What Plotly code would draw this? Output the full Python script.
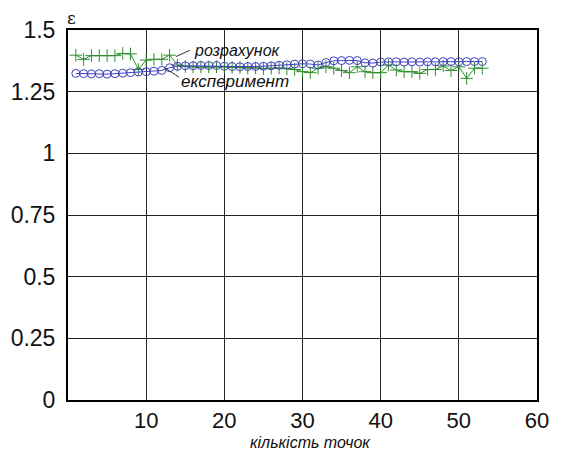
import plotly.graph_objects as go

points = list(range(1, 54))
experiment = [1.324,1.323,1.322,1.323,1.321,1.323,1.325,1.327,1.330,1.331,1.333,1.336,1.347,1.353,1.355,1.355,1.356,1.356,1.356,1.353,1.352,1.351,1.352,1.352,1.353,1.355,1.357,1.359,1.362,1.363,1.362,1.358,1.368,1.375,1.376,1.377,1.376,1.367,1.366,1.370,1.371,1.371,1.370,1.371,1.370,1.371,1.371,1.372,1.372,1.371,1.372,1.372,1.372]
calculation = [1.398,1.381,1.396,1.396,1.396,1.396,1.405,1.403,1.340,1.378,1.381,1.381,1.398,1.358,1.352,1.350,1.350,1.350,1.351,1.350,1.348,1.348,1.346,1.346,1.344,1.345,1.346,1.343,1.340,1.331,1.327,1.345,1.351,1.345,1.336,1.327,1.351,1.331,1.327,1.327,1.358,1.338,1.331,1.331,1.324,1.340,1.340,1.354,1.336,1.351,1.304,1.345,1.345]
x_ticks = [10, 20, 30, 40, 50, 60]
y_ticks = [0, 0.25, 0.5, 0.75, 1, 1.25, 1.5]
y_tick_labels = ["0", "0.25", "0.5", "0.75", "1", "1.25", "1.5"]

fig = go.Figure()
fig.add_trace(go.Scatter(
    x=points, y=calculation, mode="lines+markers", name="розрахунок",
    line=dict(color="#2f8f2f", width=1),
    marker=dict(symbol="cross-thin-open", size=9, line=dict(color="#2f8f2f", width=1)),
))
fig.add_trace(go.Scatter(
    x=points, y=experiment, mode="lines+markers", name="експеримент",
    line=dict(color="#4040c0", width=1),
    marker=dict(symbol="circle-open", size=8, color="#4040c0", line=dict(color="#4040c0", width=1)),
))

axis_common = dict(
    showline=True, linecolor="black", linewidth=2, mirror=True,
    showgrid=True, gridcolor="#222222", gridwidth=1, zeroline=False,
    ticks="", automargin=False,
)
fig.update_xaxes(range=[0, 60], tickvals=x_ticks, ticktext=[str(v) for v in x_ticks],
                 ticklabelstandoff=0,
                 tickfont=dict(family="Liberation Sans, Arial", size=22, color="#111"),
                 **axis_common)
fig.update_yaxes(range=[0, 1.5], tickvals=y_ticks, ticktext=y_tick_labels,
                 ticklabelstandoff=6,
                 tickfont=dict(family="Liberation Sans, Arial", size=23, color="#111"),
                 **axis_common)

# leader lines
fig.add_shape(type="line", xref="x", yref="y", x0=13.8, y0=1.392, x1=15.6, y1=1.418,
              line=dict(color="#333", width=1))
fig.add_shape(type="line", xref="x", yref="y", x0=12.3, y0=1.348, x1=14.2, y1=1.309,
              line=dict(color="#333", width=1))
fig.add_annotation(x=15.8, y=1.418, xref="x", yref="y", text="<i>розрахунок</i>", showarrow=False,
                   xanchor="left", yanchor="middle",
                   font=dict(family="Liberation Sans, Arial", size=16, color="#111"))
fig.add_annotation(x=14.2, y=1.293, xref="x", yref="y", text="<i>експеримент</i>", showarrow=False,
                   xanchor="left", yanchor="middle",
                   font=dict(family="Liberation Sans, Arial", size=17, color="#111"))
fig.add_annotation(x=0.516, y=-0.114, xref="paper", yref="paper", text="<i>кількість точок</i>",
                   showarrow=False, xanchor="center", yanchor="middle",
                   font=dict(family="Liberation Sans, Arial", size=16, color="#111"))
fig.add_annotation(x=0.0085, y=1.032, xref="paper", yref="paper", text="ε",
                   showarrow=False, xanchor="center", yanchor="middle",
                   font=dict(family="DejaVu Serif, Liberation Serif", size=17, color="#111"))

fig.update_layout(
    width=557, height=444,
    margin=dict(l=60, r=28, t=22, b=52, autoexpand=False),
    paper_bgcolor="white", plot_bgcolor="white",
    showlegend=False,
)
fig.write_html("out.html")
